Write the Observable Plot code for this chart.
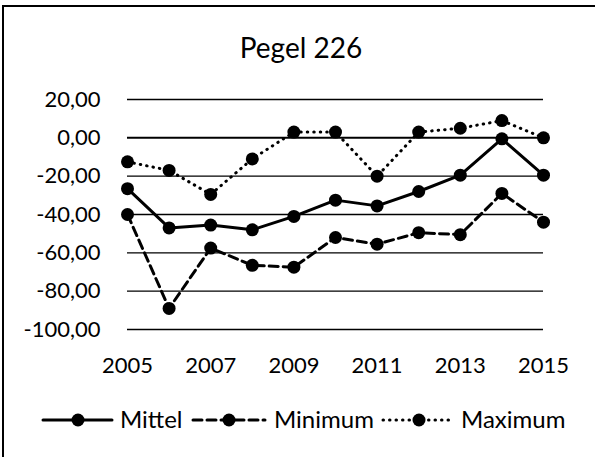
<!DOCTYPE html>
<html>
<head>
<meta charset="utf-8">
<script src="https://cdn.jsdelivr.net/npm/d3@7"></script>
<script src="https://cdn.jsdelivr.net/npm/@observablehq/plot@0.6"></script>
<style>
  html, body { margin: 0; padding: 0; background: #fff; }
  #wrap { position: relative; width: 595px; height: 457px; overflow: hidden; font-family: Lato, sans-serif; color: #000; }
  #frame { position: absolute; left: 2px; top: 5px; width: 700px; height: 600px; border-left: 2px solid #000; border-top: 2px solid #000; }
  #chart { position: absolute; left: 0; top: 0; }
  #title { position: absolute; left: 0; top: 30px; width: 602px; text-align: center; font-size: 28px; line-height: 34px; font-weight: 400; }
  #legend { position: absolute; left: 0; top: 0; }
</style>
</head>
<body>
<div id="wrap">
  <div id="frame"></div>
  <div id="chart"></div>
  <div id="title">Pegel 226</div>
  <svg id="legend" width="595" height="457"></svg>
</div>
<script>
const years = [2005, 2006, 2007, 2008, 2009, 2010, 2011, 2012, 2013, 2014, 2015];
const mittel = [-26.5, -47, -45.5, -48, -41, -32.5, -35.5, -28, -19.5, -0.5, -19.5];
const minimum = [-40, -89, -57.5, -66.5, -67.5, -52, -55.5, -49.5, -50.5, -29, -44];
const maximum = [-12.5, -17, -29.5, -11, 3, 3, -20, 3, 5, 9, 0];
const seriesNames = ["Mittel", "Minimum", "Maximum"];
const yTicks = [-100, -80, -60, -40, -20, 0, 20];
const xTicks = [2005, 2007, 2009, 2011, 2013, 2015];

const seriesData = [mittel, minimum, maximum];
const rows = seriesNames.map((name, i) => years.map((y, j) => ({year: y, value: seriesData[i][j], series: name})));
const dashes = {Mittel: null, Minimum: "9,5", Maximum: "0.5,6"};

const fmt = d => d.toFixed(2).replace(".", ",");

const marks = [
  Plot.ruleY(yTicks.filter(d => d !== 0), {stroke: "#000", strokeWidth: 1.3}),
  Plot.ruleY([0], {stroke: "#000", strokeWidth: 2}),
  Plot.axisY({ticks: yTicks, tickSize: 0, tickPadding: 27, tickFormat: fmt, label: null, fontSize: 22, fontVariant: "normal"}),
  Plot.axisX({ticks: xTicks, tickSize: 0, tickPadding: 28, tickFormat: d => String(d), label: null, fontSize: 22, fontVariant: "normal"})
];
rows.forEach(r => {
  const name = r[0].series;
  marks.push(Plot.line(r, {x: "year", y: "value", stroke: "#000", strokeWidth: 3, strokeDasharray: dashes[name], strokeLinecap: "round"}));
  marks.push(Plot.dot(r, {x: "year", y: "value", r: 6.5, fill: "#000", stroke: "none"}));
});

const chart = Plot.plot({
  width: 595,
  height: 457,
  marginLeft: 127,
  marginRight: 52,
  marginTop: 99,
  marginBottom: 128,
  x: {domain: [2005, 2015]},
  y: {domain: [-100, 20]},
  style: {fontFamily: "Lato, sans-serif", fontSize: "22px", color: "#000", background: "transparent"},
  marks
});
document.getElementById("chart").appendChild(chart);

// Legend
const leg = d3.select("#legend");
const legendItems = [
  {name: "Mittel", x1: 43, x2: 112, cx: 78, tx: 120},
  {name: "Minimum", x1: 193, x2: 265, cx: 229, tx: 274},
  {name: "Maximum", x1: 383, x2: 450, cx: 419, tx: 461}
];
const ly = 420;
legendItems.forEach(it => {
  leg.append("line").attr("x1", it.x1).attr("x2", it.x2).attr("y1", ly).attr("y2", ly)
    .attr("stroke", "#000").attr("stroke-width", 3).attr("stroke-linecap", "round")
    .attr("stroke-dasharray", dashes[it.name]);
  leg.append("circle").attr("cx", it.cx).attr("cy", ly).attr("r", 6.5).attr("fill", "#000");
  leg.append("text").attr("x", it.tx).attr("y", ly).attr("dy", "0.35em")
    .attr("font-family", "Lato, sans-serif").attr("font-size", 24).attr("font-weight", 400).attr("fill", "#000").text(it.name);
});
</script>
</body>
</html>
